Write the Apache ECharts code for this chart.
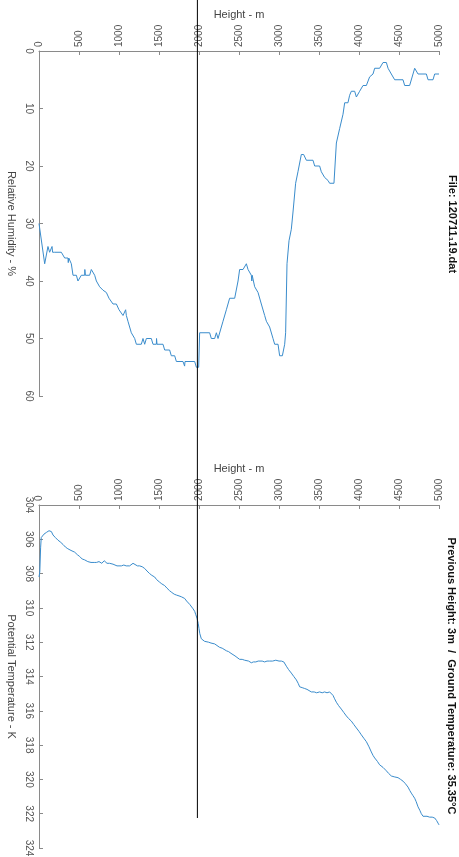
<!DOCTYPE html>
<html><head><meta charset="utf-8">
<script src="https://cdn.jsdelivr.net/npm/echarts@6/dist/echarts.min.js"></script>
<style>html,body{margin:0;padding:0;background:#fff}#c{width:459px;height:857px}</style>
</head><body><div id="c"></div>
<script>
// ---- data ----
const heightTicks = [0,500,1000,1500,2000,2500,3000,3500,4000,4500,5000];
const rhTicks = [0,10,20,30,40,50,60];
const thetaTicks = [304,306,308,310,312,314,316,318,320,322,324];
const markerHeight = 1980;

const rhHeight = [0,71,112,133,163,170,196,279,321,362,366,372,404,425,467,487,529,571,573,580,633,654,696,717,758,800,842,875,925,967,1000,1050,1083,1092,1112,1154,1196,1217,1279,1300,1321,1342,1404,1425,1467,1469,1475,1550,1571,1633,1654,1696,1717,1800,1820,1825,1946,1967,1996,2008,2029,2133,2154,2196,2217,2238,2258,2300,2342,2383,2446,2488,2508,2550,2592,2613,2654,2660,2665,2696,2738,2779,2821,2842,2883,2925,2946,2988,3008,3042,3071,3083,3100,3125,3154,3175,3208,3237,3279,3308,3342,3425,3446,3508,3529,3571,3612,3633,3687,3717,3758,3800,3821,3862,3883,3904,3946,3967,3988,4008,4050,4092,4133,4175,4196,4258,4300,4342,4363,4404,4446,4550,4571,4633,4675,4696,4738,4842,4863,4925,4946,5000];
const rhValues = [30,37,34,35,34,35,35,35,36,36,36.8,36,37,39,39,40,39,39,38,39,39,38,39,40,41,41.6,42,43,44,44,45,46,45,46,47,49,50,51,51,50,51,50,50,51,51,50,51,51,52,52,53,53,54,54,54.8,54,54,55,55,49,49,49,50,50,49,50,50,47,45,43,43,40,38,38,37,38,39,40,39,41,42,44,46,47,48,50,51,51,53,53,51,49,37,33,31,28,23,21,18,18,19,19,20,20,21,22,22.5,23,23,16,13.5,11,9,9,7.7,7,7,8,8,7,6,6,4.5,4,3,3,2,2,3,4,5,5,6,6,4,3,4,4,5,5,4,4];

const thetaHeight = [0,10,20,28,40,50,62,75,92,110,125,142,155,165,175,190,205,220,237,250,265,280,300,315,330,345,360,383,400,420,446,465,480,495,508,525,540,555,571,590,610,633,650,670,690,717,735,750,770,785,800,815,830,850,870,883,900,925,950,975,1000,1030,1060,1090,1110,1133,1155,1175,1200,1230,1258,1290,1321,1350,1383,1410,1446,1470,1490,1508,1535,1555,1571,1600,1633,1660,1690,1717,1750,1779,1800,1821,1845,1862,1885,1904,1925,1946,1960,1975,1990,2000,2010,2029,2050,2070,2092,2120,2150,2175,2196,2220,2258,2290,2315,2342,2370,2400,2425,2450,2475,2508,2540,2570,2592,2620,2654,2680,2710,2740,2758,2790,2820,2850,2883,2920,2960,3000,3030,3060,3092,3120,3154,3185,3217,3240,3258,3290,3321,3350,3375,3404,3440,3470,3508,3540,3570,3600,3633,3655,3675,3695,3717,3745,3779,3810,3842,3870,3904,3935,3967,4000,4029,4060,4092,4125,4154,4175,4196,4230,4258,4300,4342,4370,4404,4440,4488,4520,4550,4580,4613,4635,4654,4675,4696,4715,4738,4760,4779,4800,4821,4850,4883,4915,4946,4970,4988,5000];
const thetaValues = [308.2,307.9,306.5,305.9,306.0,305.9,305.7,305.75,305.6,305.55,305.5,305.4,305.55,305.6,305.75,305.8,305.9,305.95,306.05,306.1,306.15,306.25,306.3,306.4,306.45,306.5,306.55,306.6,306.65,306.7,306.75,306.85,306.9,306.95,307.0,307.1,307.15,307.2,307.2,307.25,307.3,307.3,307.35,307.3,307.35,307.35,307.4,307.3,307.35,307.4,307.35,307.25,307.35,307.4,307.45,307.4,307.5,307.45,307.5,307.55,307.5,307.55,307.5,307.55,307.5,307.55,307.45,307.4,307.45,307.55,307.55,307.6,307.7,307.85,308.0,308.1,308.2,308.35,308.4,308.5,308.6,308.65,308.7,308.85,309.0,309.1,309.2,309.25,309.3,309.35,309.4,309.45,309.6,309.7,309.8,309.9,310.05,310.2,310.4,310.6,310.9,311.2,311.5,311.8,311.9,311.95,312.0,312.0,312.05,312.05,312.1,312.15,312.3,312.35,312.4,312.5,312.55,312.65,312.7,312.8,312.9,313.0,313.0,313.05,313.05,313.1,313.2,313.15,313.15,313.1,313.15,313.1,313.15,313.1,313.1,313.1,313.05,313.1,313.1,313.15,313.4,313.6,313.8,314.0,314.2,314.4,314.6,314.65,314.7,314.75,314.85,314.9,314.9,314.95,314.9,314.95,314.9,314.95,314.9,314.95,315.1,315.3,315.5,315.7,315.9,316.1,316.3,316.45,316.6,316.8,317.0,317.2,317.4,317.6,317.8,318.1,318.4,318.6,318.75,318.95,319.15,319.3,319.5,319.65,319.8,319.85,319.9,320.0,320.1,320.25,320.45,320.65,320.8,320.95,321.1,321.3,321.6,321.8,322.0,322.15,322.2,322.15,322.2,322.2,322.25,322.4,322.55,322.65];

const titleTop = 'File: 120711\u208119.dat';
const titleBottom = 'Previous Height: 3m  /  Ground Temperature: 35.35\u00B0C';

// ---- chart ----
const FONT = 'Liberation Sans, Arial, sans-serif';
const AX = '#8a8a8a', LB = '#555', NM = '#444', LINE = '#3a8ccc';
const chart = echarts.init(document.getElementById('c'), null, {renderer:'canvas'});
const plain = v => String(v);

function hAxis(gi) {
  return {
    type:'value', gridIndex:gi, position:'top', min:heightTicks[0], max:heightTicks[heightTicks.length-1], interval:500,
    name:'Height - m', nameLocation:'middle', nameGap:30,
    nameTextStyle:{color:NM, fontSize:11, fontFamily:FONT},
    axisLine:{show:true, onZero:false, lineStyle:{color:AX, width:1}},
    axisTick:{show:true, inside:true, length:4, lineStyle:{color:AX}},
    axisLabel:{show:true, rotate:-90, fontSize:10, color:LB, margin:4, fontFamily:FONT, formatter:plain},
    splitLine:{show:false}
  };
}
function vAxis(gi, ticks, interval, name) {
  return {
    type:'value', gridIndex:gi, inverse:true, position:'left', min:ticks[0], max:ticks[ticks.length-1], interval:interval,
    name:name, nameLocation:'middle', nameGap:21, nameRotate:-90,
    nameTextStyle:{color:NM, fontSize:11, fontFamily:FONT},
    axisLine:{show:true, onZero:false, lineStyle:{color:AX, width:1}},
    axisTick:{show:true, inside:true, length:4, lineStyle:{color:AX}},
    axisLabel:{show:true, rotate:-90, fontSize:10, color:LB, margin:5, fontFamily:FONT, formatter:plain},
    splitLine:{show:false}
  };
}

const option = {
  animation:false,
  backgroundColor:'#fff',
  grid:[
    {left:39, top:51, width:400, height:345, containLabel:false, outerBoundsMode:'none'},
    {left:39, top:505, width:400, height:343, containLabel:false, outerBoundsMode:'none'},
    {left:39, top:0, width:400, height:818, containLabel:false, outerBoundsMode:'none'}
  ],
  xAxis:[
    hAxis(0), hAxis(1),
    {type:'value', gridIndex:2, min:0, max:5000, show:false}
  ],
  yAxis:[
    vAxis(0, rhTicks, 10, 'Relative Humidity - %'),
    vAxis(1, thetaTicks, 2, 'Potential Temperature - K'),
    {type:'value', gridIndex:2, min:0, max:1, show:false}
  ],
  series:[
    {type:'line', xAxisIndex:0, yAxisIndex:0, showSymbol:false, symbol:'none',
     lineStyle:{color:LINE, width:1}, data: rhHeight.map((h,i)=>[h, rhValues[i]])},
    {type:'line', xAxisIndex:1, yAxisIndex:1, showSymbol:false, symbol:'none',
     lineStyle:{color:LINE, width:1}, data: thetaHeight.map((h,i)=>[h, thetaValues[i]])},
    {type:'line', xAxisIndex:2, yAxisIndex:2, showSymbol:false, symbol:'none', silent:true,
     lineStyle:{color:'#000', width:1}, data: [[markerHeight,0],[markerHeight,1]]}
  ],
  graphic:[
    {type:'text', x:452, y:224, rotation:-Math.PI/2,
     style:{text:titleTop, font:'bold 11px '+FONT, fill:'#111', textAlign:'center', textVerticalAlign:'middle'}},
    {type:'text', x:451, y:676, rotation:-Math.PI/2,
     style:{text:titleBottom, font:'bold 11px '+FONT, fill:'#111', textAlign:'center', textVerticalAlign:'middle'}}
  ]
};
chart.setOption(option);
</script></body></html>
